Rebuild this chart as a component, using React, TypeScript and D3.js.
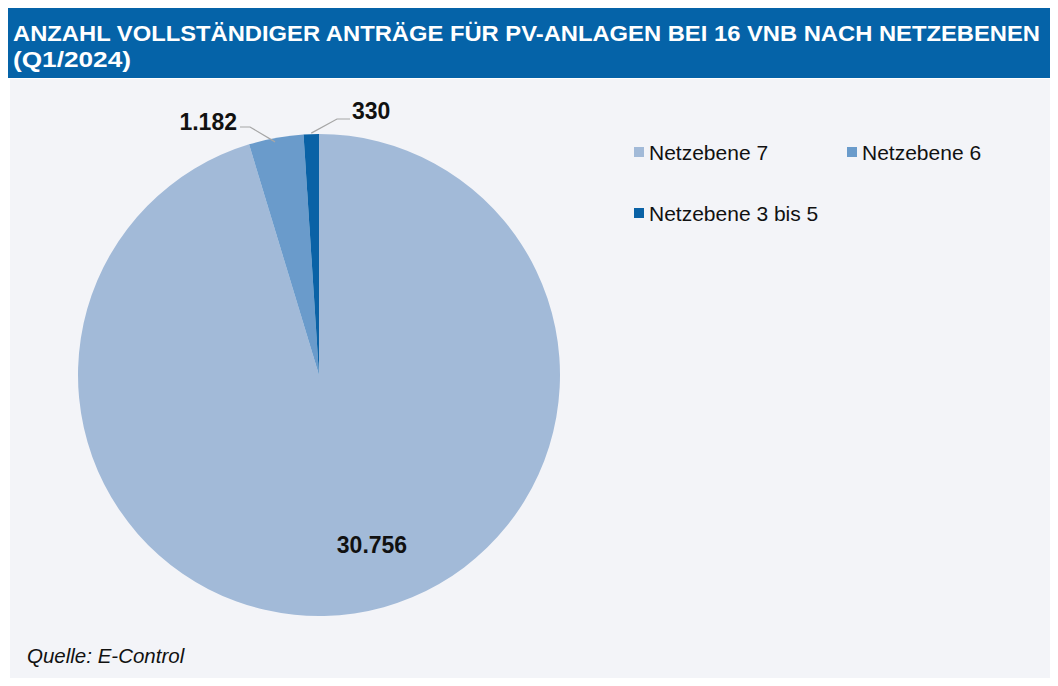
import React from "react";
import * as d3 from "d3";

const categories = ["Netzebene 7", "Netzebene 6", "Netzebene 3 bis 5"];
const values = [30756, 1182, 330];
const valueLabels = ["30.756", "1.182", "330"];
const colors = ["#a2bad8", "#6a9bcb", "#0a62a6"];

const W = 1058;
const H = 686;

export default function App() {
  const cx = 319;
  const cy = 375;
  const r = 241;
  const pie = d3.pie<number>().sort(null).startAngle(0).endAngle(2 * Math.PI);
  const arcs = pie(values);
  const arc = d3.arc<d3.PieArcDatum<number>>().innerRadius(0).outerRadius(r);
  const font = "Liberation Sans, Arial, sans-serif";

  const edge = (a: d3.PieArcDatum<number>, rr: number) => {
    const m = (a.startAngle + a.endAngle) / 2;
    return [cx + rr * Math.sin(m), cy - rr * Math.cos(m)];
  };
  const p6 = edge(arcs[1], r);
  const p3 = edge(arcs[2], r);

  return (
    <div style={{ margin: -8 }}>
      <svg width={W} height={H} style={{ display: "block" }}>
        <rect x={0} y={0} width={W} height={H} fill="#ffffff" />
        <rect x={8} y={6} width={W - 8} height={72} fill="#0563a8" />
        <rect x={10} y={79} width={W - 10} height={599} fill="#f3f4f8" />
        <text x={13} y={41} fill="#ffffff" fontFamily={font} fontWeight="bold" fontSize={22} textLength={1027} lengthAdjust="spacingAndGlyphs">
          ANZAHL VOLLSTÄNDIGER ANTRÄGE FÜR PV-ANLAGEN BEI 16 VNB NACH NETZEBENEN
        </text>
        <text x={13} y={67} fill="#ffffff" fontFamily={font} fontWeight="bold" fontSize={22} textLength={118} lengthAdjust="spacingAndGlyphs">
          (Q1/2024)
        </text>
        <g transform={`translate(${cx},${cy})`}>
          {arcs.map((a, i) => (
            <path key={i} d={arc(a) || ""} fill={colors[i]} />
          ))}
        </g>
        <text x={372} y={553} textAnchor="middle" fontFamily={font} fontWeight="bold" fontSize={23} fill="#111">
          {valueLabels[0]}
        </text>
        <polyline points={`${p6[0] - 1},${p6[1] + 4} 250,127 240,127`} fill="none" stroke="#a6a6a6" strokeWidth={1.2} />
        <text x={237} y={130} textAnchor="end" fontFamily={font} fontWeight="bold" fontSize={23} fill="#111">
          {valueLabels[1]}
        </text>
        <polyline points={`${p3[0]},${p3[1] - 1} 337,119 350,119`} fill="none" stroke="#a6a6a6" strokeWidth={1.2} />
        <text x={352} y={119} fontFamily={font} fontWeight="bold" fontSize={23} fill="#111">
          {valueLabels[2]}
        </text>
        {categories.map((c, i) => {
          const lx = i === 1 ? 847 : 634;
          const ly = i === 2 ? 213 : 152;
          return (
            <g key={c}>
              <rect x={lx} y={ly - 5} width={10} height={10} fill={colors[i]} />
              <text x={lx + 15} y={ly + 8} fontFamily={font} fontSize={21} fill="#111">
                {c}
              </text>
            </g>
          );
        })}
        <text x={27} y={663} fontFamily={font} fontStyle="italic" fontSize={20.5} fill="#111">
          Quelle: E-Control
        </text>
      </svg>
    </div>
  );
}
